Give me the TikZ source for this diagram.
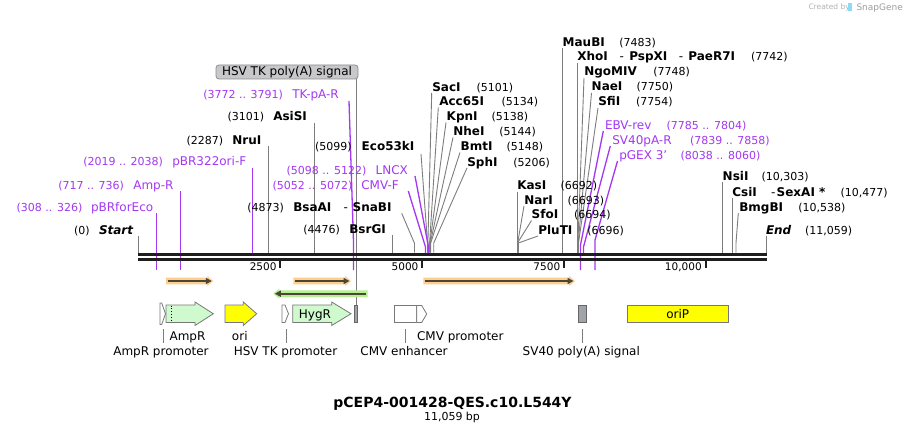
\documentclass[tikz,border=0pt]{standalone}
\usepackage{fontspec}
\setmainfont{DejaVu Sans}
\usetikzlibrary{arrows.meta}
\definecolor{prim}{RGB}{163,56,240}
\definecolor{enzg}{RGB}{125,125,125}
\definecolor{bbc}{RGB}{30,30,30}
\definecolor{orng}{RGB}{253,206,140}
\definecolor{grnb}{RGB}{180,240,145}
\definecolor{darkl}{RGB}{75,70,55}
\definecolor{featg}{RGB}{206,250,206}
\definecolor{featl}{RGB}{120,120,120}
\definecolor{sig}{RGB}{160,164,170}
\definecolor{ylw}{RGB}{255,255,0}
\definecolor{boxg}{RGB}{200,200,202}
\newcommand\bandR[4]{%
  \fill[#4] (#1,#3-3.3) -- (#2-6,#3-3.3) -- (#2-6,#3-5) -- (#2,#3) -- (#2-6,#3+5) -- (#2-6,#3+3.3) -- (#1,#3+3.3) -- cycle;
  \draw[darkl, line width=2.2pt, -{Triangle[length=6pt,width=6pt]}] (#1+1.5,#3) -- (#2-1.5,#3);}
\newcommand\bandL[4]{%
  \fill[#4] (#2,#3-3.3) -- (#1+6,#3-3.3) -- (#1+6,#3-5) -- (#1,#3) -- (#1+6,#3+5) -- (#1+6,#3+3.3) -- (#2,#3+3.3) -- cycle;
  \draw[darkl, line width=2.2pt, -{Triangle[length=6pt,width=6pt]}] (#2-1.5,#3) -- (#1+1.5,#3);}
\begin{document}
\begin{tikzpicture}[x=1pt,y=-1pt,
  nm/.style={anchor=base west,inner sep=0,outer sep=0,font=\fontsize{12}{14}\selectfont\bfseries},
  nbi/.style={anchor=base west,inner sep=0,outer sep=0,font=\fontsize{12}{14}\selectfont\bfseries\itshape},
  nb/.style={anchor=base west,inner sep=0,outer sep=0,font=\fontsize{11}{13}\selectfont},
  dsh/.style={anchor=base west,inner sep=0,outer sep=0,font=\fontsize{12}{14}\selectfont},
  pn/.style={anchor=base west,inner sep=0,outer sep=0,text=prim,font=\fontsize{12}{14}\selectfont},
  pb/.style={anchor=base west,inner sep=0,outer sep=0,text=prim,font=\fontsize{11}{13}\selectfont},
  enz/.style={draw=enzg,line width=0.9pt},
  pl/.style={draw=prim,line width=1.3pt},
  ft/.style={anchor=base,inner sep=0,outer sep=0,font=\fontsize{12}{14}\selectfont},
  tk/.style={anchor=base east,inner sep=0,outer sep=0,font=\fontsize{10.5}{12}\selectfont},
  feat/.style={draw=featl,line width=0.8pt},
  lead/.style={draw=enzg,line width=0.8pt}]
\useasboundingbox (0,0) rectangle (905,433);
\fill[white] (0,0) rectangle (905,433);

% ---- Created by SnapGene
\node[anchor=base west,inner sep=0,text=black!30,font=\fontsize{7.5}{9}\selectfont] (cb) at (808.3,10) {Created by};
\fill[cyan!45] (848.3,3) rectangle (851.7,11);
\node[anchor=base west,inner sep=0,text=black!38,font=\fontsize{9}{10}\selectfont] (sg) at (856.3,10.5) {SnapGene};

% ---- label connector lines (enzymes, gray)
\draw[enz] (314.3,122.7) -- (314.3,252.5);
\draw[enz] (268.3,146) -- (268.3,252.5);
\draw[enz] (138.3,235.5) -- (138.3,252.5);
\draw[enz] (401.7,213.3) -- (414.5,243.3) -- (414.5,252.5);
\draw[enz] (392.5,235) -- (392.5,252.5);
\draw[enz] (421,154) -- (427.6,244) -- (427.6,252.5);
\draw[enz] (431.7,93) -- (427.9,243) -- (427.9,252.5);
\draw[enz] (438.3,107.5) -- (429.6,243) -- (429.6,252.5);
\draw[enz] (446,122.5) -- (429.9,243) -- (429.9,252.5);
\draw[enz] (453,137.5) -- (430.3,243) -- (430.3,252.5);
\draw[enz] (460,152.5) -- (430.7,243) -- (430.7,252.5);
\draw[enz] (467,168) -- (433.7,243) -- (433.7,252.5);
\draw[enz] (517.9,191.5) -- (517.9,252.5);
\draw[enz] (524,206) -- (518,241) -- (518,252.5);
\draw[enz] (531.5,220.5) -- (518.1,242) -- (518.1,252.5);
\draw[enz] (538,236) -- (518.3,243) -- (518.3,252.5);
\draw[enz] (562.8,48.5) -- (562.8,252.5);
\draw[enz] (577.5,63) -- (577.5,252.5);
\draw[enz] (584,78) -- (577.9,243) -- (577.9,252.5);
\draw[enz] (591.5,93) -- (578.2,243) -- (578.2,252.5);
\draw[enz] (598,108) -- (578.5,243) -- (578.5,252.5);
\draw[enz] (722.7,182) -- (722.7,252.5);
\draw[enz] (732.5,197.5) -- (732.5,252.5);
\draw[enz] (738.3,213) -- (736,243) -- (736,252.5);
\draw[enz] (766.7,235.5) -- (766.7,252.5);

% ---- primer lines (purple)
\draw[pl] (349,101) -- (353.5,242) -- (353.5,270);
\draw[pl] (252.5,168) -- (252.5,254);
\draw[pl] (180.3,191) -- (180.3,270);
\draw[pl] (156.5,213) -- (156.5,270);
\draw[pl] (415,176) -- (428.3,246) -- (428.3,253);
\draw[pl] (408.3,191) -- (425.5,247) -- (425.5,253);
\draw[pl] (603.3,131) -- (580.5,245) -- (580.5,270);
\draw[pl] (610.3,146) -- (583.5,247) -- (583.5,254);
\draw[pl] (617.5,161) -- (595,240) -- (595,270);

% ---- HSV TK poly(A) label box and its line
\draw[enz] (356.7,79) -- (356.7,305.5);
\node[draw=black!45,fill=boxg,rounded corners=3pt,line width=0.8pt,inner sep=0,minimum width=142pt,minimum height=14pt,font=\fontsize{12}{14}\selectfont] (hsvbox) at (287,72) {HSV TK poly(A) signal};

% ---- backbone
\draw[bbc,line width=3pt] (138,254.5) -- (767,254.5);
\draw[bbc,line width=3pt] (138,259.5) -- (767,259.5);

% ---- ticks
\draw[bbc,line width=2pt] (280.3,261) -- (280.3,268);
\draw[bbc,line width=2pt] (422.2,261) -- (422.2,268);
\draw[bbc,line width=2pt] (564,261) -- (564,268);
\draw[bbc,line width=2pt] (705.5,261) -- (705.5,268);
\node[tk] (t1) at (276.5,270.7) {2500};
\node[tk] (t2) at (418.4,270.7) {5000};
\node[tk] (t3) at (560.2,270.7) {7500};
\node[tk] (t4) at (701.7,270.7) {10,000};

% ---- left labels
\node[pb] (pbTK) at (203.3,98.7) {(3772 .. 3791)};
\node[pn] (pnTK) at (292.3,98.7) {TK-pA-R};
\node[nb] (bAsi) at (227.5,121) {(3101)};
\node[nm] (nAsi) at (273.3,121) {AsiSI};
\node[nb] (bNru) at (186.7,144.4) {(2287)};
\node[nm] (nNru) at (232.3,144.4) {NruI};
\node[pb] (pbOri) at (83.3,166) {(2019 .. 2038)};
\node[pn] (pnOri) at (172.3,166) {pBR322ori-F};
\node[pb] (pbAmp) at (58.3,189.4) {(717 .. 736)};
\node[pn] (pnAmp) at (133.3,189.4) {Amp-R};
\node[pb] (pbEco) at (16.7,211) {(308 .. 326)};
\node[pn] (pnEco) at (91,211) {pBRforEco};
\node[nb] (bSt) at (74,234.4) {(0)};
\node[nbi] (nSt) at (99,234.4) {Start};

% ---- middle labels
\node[nb] (bBsa) at (247.3,211) {(4873)};
\node[nm] (nBsa) at (293.3,211) {BsaAI};
\node[dsh] (dBsa) at (343.5,211) {-};
\node[nm] (nSna) at (352.7,211) {SnaBI};
\node[nb] (bBsr) at (303.3,233.7) {(4476)};
\node[nm] (nBsr) at (349.3,233.7) {BsrGI};
\node[nb] (bE53) at (315,151) {(5099)};
\node[nm] (nE53) at (361.7,151) {Eco53kI};
\node[pb] (pbLN) at (286.7,174.4) {(5098 .. 5122)};
\node[pn] (pnLN) at (375.7,174.4) {LNCX};
\node[pb] (pbCM) at (272.7,189.4) {(5052 .. 5072)};
\node[pn] (pnCM) at (361.3,189.4) {CMV-F};

% ---- right cluster at ~5100
\node[nm] (nSac) at (432.3,91.7) {SacI};
\node[nb] (bSac) at (476.7,91.7) {(5101)};
\node[nm] (nAcc) at (439.3,106) {Acc65I};
\node[nb] (bAcc) at (501.7,106) {(5134)};
\node[nm] (nKpn) at (446.7,121) {KpnI};
\node[nb] (bKpn) at (491.7,121) {(5138)};
\node[nm] (nNhe) at (453.3,136) {NheI};
\node[nb] (bNhe) at (499.3,136) {(5144)};
\node[nm] (nBmt) at (460.7,151) {BmtI};
\node[nb] (bBmt) at (506.7,151) {(5148)};
\node[nm] (nSph) at (467.3,166.7) {SphI};
\node[nb] (bSph) at (513.3,166.7) {(5206)};

% ---- KasI cluster
\node[nm] (nKas) at (517.3,189.4) {KasI};
\node[nb] (bKas) at (560.7,189.4) {(6692)};
\node[nm] (nNar) at (524.3,204.4) {NarI};
\node[nb] (bNar) at (567.7,204.4) {(6693)};
\node[nm] (nSfo) at (531.7,218.7) {SfoI};
\node[nb] (bSfo) at (574,218.7) {(6694)};
\node[nm] (nPlu) at (538.3,234.4) {PluTI};
\node[nb] (bPlu) at (587.3,234.4) {(6696)};

% ---- MauBI cluster
\node[nm] (nMau) at (562.7,46.7) {MauBI};
\node[nb] (bMau) at (619.3,46.7) {(7483)};
\node[nm] (nXho) at (577.3,61) {XhoI};
\node[dsh] (dXho) at (619.5,61) {-};
\node[nm] (nPsp) at (629.3,61) {PspXI};
\node[dsh] (dPsp) at (678.8,61) {-};
\node[nm] (nPae) at (688.3,61) {PaeR7I};
\node[nb] (bXho) at (751,61) {(7742)};
\node[nm] (nNgo) at (584.3,76) {NgoMIV};
\node[nb] (bNgo) at (653.3,76) {(7748)};
\node[nm] (nNae) at (591.7,91) {NaeI};
\node[nb] (bNae) at (636.7,91) {(7750)};
\node[nm] (nSfi) at (598.3,106) {SfiI};
\node[nb] (bSfi) at (636,106) {(7754)};
\node[pn] (pnEBV) at (605,129.4) {EBV-rev};
\node[pb] (pbEBV) at (666.7,129.4) {(7785 .. 7804)};
\node[pn] (pnSV) at (612.3,144.4) {SV40pA-R};
\node[pb] (pbSV) at (690,144.4) {(7839 .. 7858)};
\node[pn] (pnGEX) at (619.3,159.4) {pGEX 3'};
\node[pb] (pbGEX) at (680.7,159.4) {(8038 .. 8060)};

% ---- far right
\node[nm] (nNsi) at (722.7,180.4) {NsiI};
\node[nb] (bNsi) at (761.7,180.4) {(10,303)};
\node[nm] (nCsi) at (732.3,196) {CsiI};
\node[dsh] (dCsi) at (771.2,196) {-};
\node[nm] (nSex) at (776.7,196) {SexAI *};
\node[nb] (bCsi) at (840.7,196) {(10,477)};
\node[nm] (nBmg) at (739.3,211) {BmgBI};
\node[nb] (bBmg) at (798.3,211) {(10,538)};
\node[nbi] (nEnd) at (766,234.4) {End};
\node[nb] (bEnd) at (805,234.4) {(11,059)};

% ---- ORF bands
\bandR{166}{213.3}{281}{orng}
\bandR{293.3}{351}{281}{orng}
\bandR{423.3}{575}{281}{orng}
\bandL{273.3}{367.7}{293.7}{grnb}

% ---- features
\draw[feat,fill=white] (160,303) -- (161.7,303) -- (165.5,313.75) -- (161.7,324.5) -- (160,324.5) -- cycle;
\draw[feat,fill=featg] (166,305) -- (195,305) -- (195,302) -- (213.3,313.75) -- (195,325.5) -- (195,322.5) -- (166,322.5) -- cycle;
\draw[black,dotted,line width=0.8pt] (171,305.5) -- (171,322);
\draw[feat,fill=ylw] (225,305) -- (243.3,305) -- (243.3,302) -- (256.7,313.75) -- (243.3,325.5) -- (243.3,322.5) -- (225,322.5) -- cycle;
\draw[feat,fill=white] (282,305) -- (285,305) -- (288.5,313.75) -- (285,322.5) -- (282,322.5) -- cycle;
\draw[feat,fill=featg] (292.7,305) -- (331.7,305) -- (331.7,302) -- (351,313.75) -- (331.7,325.5) -- (331.7,322.5) -- (292.7,322.5) -- cycle;
\node[ft] (hyg) at (315,318) {HygR};
\draw[draw=black!60,line width=0.8pt,fill=sig] (354.3,305.5) rectangle (357.7,322.5);
\draw[feat,fill=white] (394.3,305.5) rectangle (416.7,322.5);
\draw[feat,fill=white] (416.7,305.5) -- (421.7,305.5) -- (426.7,314) -- (421.7,322.5) -- (416.7,322.5) -- cycle;
\draw[draw=black!60,line width=0.8pt,fill=sig] (578.3,305.5) rectangle (586.7,322.5);
\draw[feat,fill=ylw] (627.3,305.5) rectangle (728.3,322.5);
\node[ft] (orip) at (677.8,318) {oriP};

% ---- feature labels
\node[ft] (lAmp) at (187.5,340) {AmpR};
\node[ft] (lOri) at (239.8,340) {ori};
\node[ft] (lCMVp) at (460.3,340) {CMV promoter};
\draw[lead] (163.3,329) -- (163.3,343);
\draw[lead] (286,329) -- (286,343);
\draw[lead] (405.7,329) -- (405.7,343);
\draw[lead] (582.3,329) -- (582.3,343);
\node[ft] (lAmpP) at (161,355) {AmpR promoter};
\node[ft] (lHSVP) at (285.5,355) {HSV TK promoter};
\node[ft] (lCMVe) at (404,355) {CMV enhancer};
\node[ft] (lSV) at (581.3,355) {SV40 poly(A) signal};

% ---- title
\node[anchor=base,inner sep=0,font=\fontsize{14}{16}\selectfont\bfseries] (title) at (452.5,407.7) {pCEP4-001428-QES.c10.L544Y};
\node[anchor=base,inner sep=0,font=\fontsize{11}{13}\selectfont] (sub) at (452,420) {11,059 bp};
\end{tikzpicture}
\end{document}
